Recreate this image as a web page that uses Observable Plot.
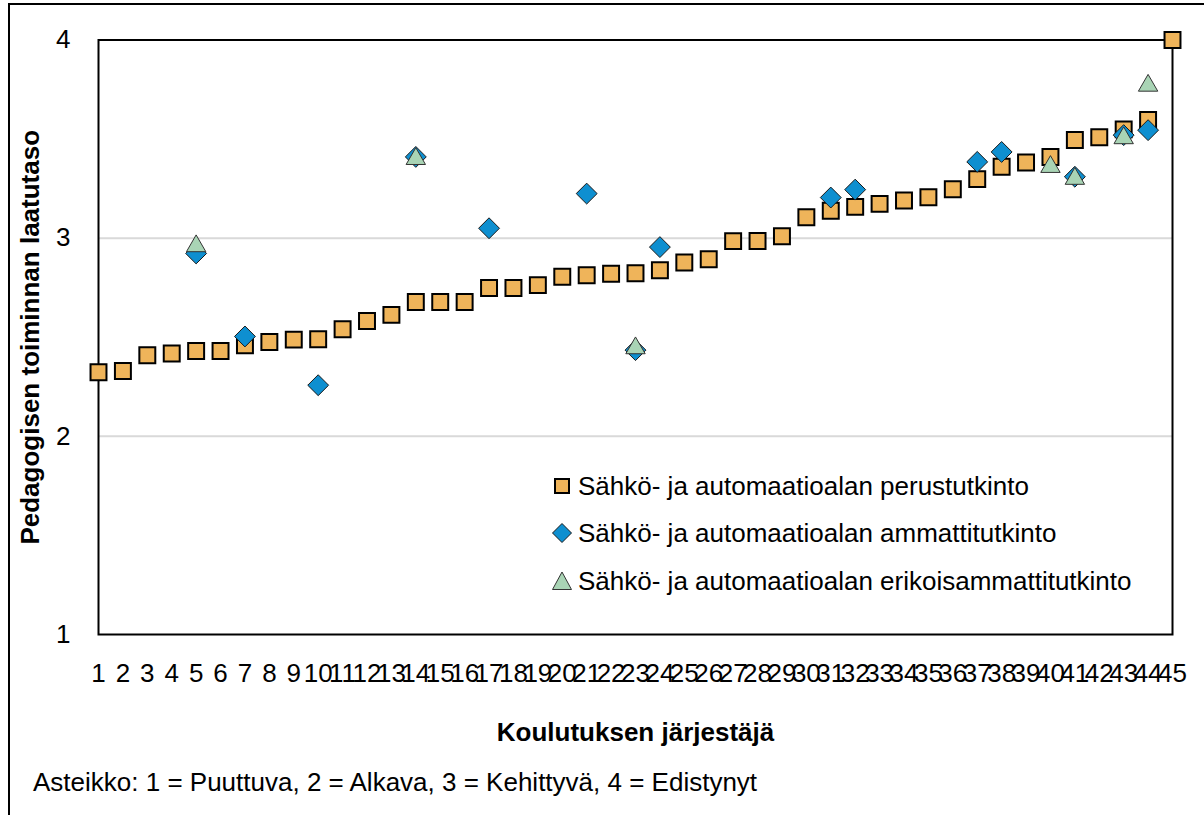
<!DOCTYPE html>
<html><head><meta charset="utf-8">
<script src="https://cdn.jsdelivr.net/npm/d3@7"></script>
<script src="https://cdn.jsdelivr.net/npm/@observablehq/plot@0.6"></script>
<style>
body{margin:0;background:#fff;}
#wrap{position:relative;width:1204px;height:815px;overflow:hidden;font-family:"Liberation Sans",Arial,sans-serif;color:#000;}
#border{position:absolute;left:8px;top:3px;width:1300px;height:1000px;border-left:2px solid #000;border-top:2px solid #000;pointer-events:none;}
#chart{position:absolute;left:0;top:0;}
#chart svg{overflow:visible;}
g[aria-label="x-axis label"] text, g[aria-label="y-axis label"] text{font-weight:bold;}
.leg{position:absolute;left:551px;height:32px;display:flex;align-items:center;font-size:26px;white-space:nowrap;}
.leg svg{width:22px;height:22px;margin-right:5px;overflow:visible;}
#note{position:absolute;left:33px;top:767px;font-size:26px;white-space:nowrap;}
</style></head>
<body>
<div id="wrap">
<div id="chart"></div>
<div id="legend"></div>
<div id="note"></div>
<div id="border"></div>
</div>
<script>
const providers = [1,2,3,4,5,6,7,8,9,10,11,12,13,14,15,16,17,18,19,20,21,22,23,24,25,26,27,28,29,30,31,32,33,34,35,36,37,38,39,40,41,42,43,44,45];
const perusValues = [2.323,2.33,2.409,2.418,2.431,2.431,2.46,2.476,2.488,2.49,2.54,2.582,2.613,2.678,2.678,2.678,2.749,2.749,2.763,2.805,2.813,2.82,2.823,2.838,2.877,2.894,2.985,2.986,3.01,3.106,3.138,3.158,3.173,3.19,3.206,3.247,3.298,3.36,3.382,3.41,3.495,3.509,3.549,3.596,4.0];
const ammProviders = [5,7,10,14,17,21,23,24,31,32,37,38,41,43,44];
const ammValues = [2.923,2.504,2.258,3.41,3.05,3.225,2.435,2.955,3.205,3.245,3.385,3.435,3.31,3.52,3.545];
const eatProviders = [5,14,23,40,41,43,44];
const eatValues = [2.96,3.40,2.445,3.36,3.30,3.505,3.77];
const yTicks = [1,2,3,4];
const seriesNames = ["Sähkö- ja automaatioalan perustutkinto","Sähkö- ja automaatioalan ammattitutkinto","Sähkö- ja automaatioalan erikoisammattitutkinto"];
const colors = ["#EFB45A","#0E8FD0","#A9D4B5"];
const xTitle = "Koulutuksen järjestäjä";
const yTitle = "Pedagogisen toiminnan laatutaso";
const note = "Asteikko: 1 = Puuttuva, 2 = Alkava, 3 = Kehittyvä, 4 = Edistynyt";

const perus = providers.map((p,i)=>({x:p,y:perusValues[i]}));
const amm = ammProviders.map((p,i)=>({x:p,y:ammValues[i]}));
const eat = eatProviders.map((p,i)=>({x:p,y:eatValues[i]}));
const font = '"Liberation Sans",Arial,sans-serif';

const chart = Plot.plot({
  width:1204, height:755,
  marginLeft:98, marginRight:32, marginTop:39.5, marginBottom:121,
  style:{fontFamily:font, fontSize:"26px", color:"#000", background:"transparent"},
  x:{domain:[1,45]},
  y:{domain:[1,4]},
  marks:[
    Plot.ruleY([2,3],{stroke:"#d9d9d9",strokeWidth:2}),
    Plot.frame({stroke:"#000",strokeWidth:2}),
    Plot.axisX({ticks:providers, tickSize:0, tickPadding:29, tickFormat:d=>String(d), label:xTitle, labelAnchor:"center", labelArrow:"none", labelOffset:106, fill:"#000"}),
    Plot.axisY({ticks:yTicks, tickSize:0, tickPadding:28, tickFormat:d=>String(d), label:yTitle, labelAnchor:"center", labelArrow:"none", labelOffset:78, fill:"#000"}),
    Plot.dot(perus,{x:"x",y:"y",symbol:"square",r:9,fill:colors[0],stroke:"#000",strokeWidth:2}),
    Plot.dot(amm,{x:"x",y:"y",symbol:"diamond2",r:9.4,fill:colors[1],stroke:"#1a1a1a",strokeWidth:1}),
    Plot.dot(eat,{x:"x",y:"y",symbol:"triangle",r:7.2,fill:colors[2],stroke:"#333",strokeWidth:1})
  ]
});
document.getElementById("chart").appendChild(chart);

const symbols = [
  '<rect x="4" y="4" width="14" height="14" fill="'+colors[0]+'" stroke="#000" stroke-width="2"/>',
  '<path d="M11 1.5 L20.5 11 L11 20.5 L1.5 11 Z" fill="'+colors[1]+'" stroke="#1a1a1a" stroke-width="1"/>',
  '<path d="M11 2 L20.5 19.5 L1.5 19.5 Z" fill="'+colors[2]+'" stroke="#333" stroke-width="1"/>'
];
const legendTops = [470, 517, 565];
const legend = document.getElementById("legend");
seriesNames.forEach((n,i)=>{
  const d = document.createElement("div");
  d.className = "leg";
  d.style.top = legendTops[i]+"px";
  d.innerHTML = '<svg viewBox="0 0 22 22">'+symbols[i]+'</svg><span>'+n+'</span>';
  legend.appendChild(d);
});
document.getElementById("note").textContent = note;
</script>
</body></html>
